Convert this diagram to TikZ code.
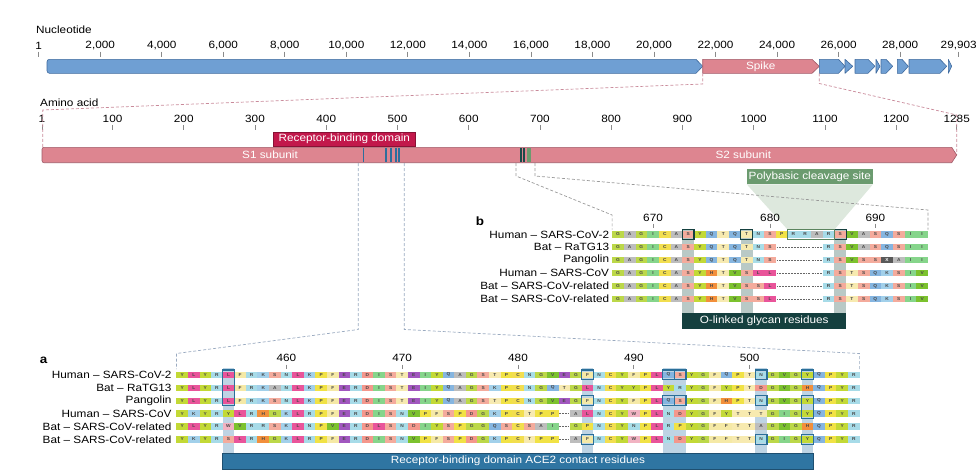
\documentclass[tikz,border=0pt]{standalone}
\usepackage{fontspec}
\setmainfont{Liberation Sans}[FakeStretch=1.12]
\usetikzlibrary{calc}
\definecolor{orfblue}{HTML}{6F9FD3}
\definecolor{orfedge}{HTML}{3F6A9E}
\definecolor{spikepink}{HTML}{DD8590}
\definecolor{spikeedge}{HTML}{A05A68}
\definecolor{rbdred}{HTML}{C2184B}
\definecolor{contactblue}{HTML}{2F75A2}
\definecolor{contactedge}{HTML}{1E4F70}
\definecolor{shadeblue}{HTML}{BED4E4}
\definecolor{boxblue}{HTML}{2B6F99}
\definecolor{glyteal}{HTML}{15403F}
\definecolor{shadeteal}{HTML}{B9C9C6}
\definecolor{cleavgreen}{HTML}{6B9B6F}
\definecolor{cleavlight}{HTML}{DDE8DD}
\definecolor{conpink}{HTML}{C98A9A}
\definecolor{conblue}{HTML}{9AAAC0}
\definecolor{congray}{HTML}{999999}
\definecolor{tickgray}{HTML}{8A8A8A}
\definecolor{s1line}{HTML}{2D6E9C}
\definecolor{s2dark}{HTML}{1B4A48}
% residue colours
\definecolor{aaY}{HTML}{C3D936}
\definecolor{aaL}{HTML}{E9549A}
\definecolor{aaR}{HTML}{A7DBE8}
\definecolor{aaK}{HTML}{A2D0EA}
\definecolor{aaF}{HTML}{F5E9A6}
\definecolor{aaS}{HTML}{F4AB9C}
\definecolor{aaN}{HTML}{A8DDE8}
\definecolor{aaP}{HTML}{F1E245}
\definecolor{aaE}{HTML}{A157BF}
\definecolor{aaD}{HTML}{F4978C}
\definecolor{aaI}{HTML}{86D58B}
\definecolor{aaT}{HTML}{F7EAB0}
\definecolor{aaQ}{HTML}{85B5E0}
\definecolor{aaA}{HTML}{BDBDBD}
\definecolor{aaG}{HTML}{BCD849}
\definecolor{aaC}{HTML}{F2DE4F}
\definecolor{aaV}{HTML}{7CC22E}
\definecolor{aaH}{HTML}{F28F3B}
\definecolor{aaW}{HTML}{F1B3C2}
\definecolor{aaX}{HTML}{595959}
\definecolor{aag}{HTML}{FFFFFF}
\newcommand\mainsize{\fontsize{10.5}{12.5}\selectfont}
\newcommand\cellfont{\fontsize{4.3}{4.3}\selectfont\bfseries}
\newcommand\labX{\textcolor{white}{X}}
\newcommand\labg{\textcolor{black!60}{\rule{1.8pt}{0.5pt}\hspace{1pt}\rule{1.8pt}{0.5pt}\hspace{1pt}\rule{1.8pt}{0.5pt}\hspace{1pt}\rule{1.8pt}{0.5pt}}}
\makeatletter
\newcount\aacol
\newcommand\seqrow[5]{%
  \global\aacol=0
  \@tfor\aac:=#5\do{%
    \pgfmathsetmacro\aax{#1+(\the\aacol+0.5)*#3}%
    \node[cell, minimum width=#3pt, fill=aa\aac] (#4-\the\aacol) at (\aax,#2) {\ifcsname lab\aac\endcsname\csname lab\aac\endcsname\else\aac\fi};%
    \global\advance\aacol by 1 }%
}
\makeatother
\tikzset{
  lab/.style={font=\mainsize, inner sep=0pt, text=black},
  wlab/.style={font=\mainsize, inner sep=0pt, text=white},
  panel/.style={font=\fontsize{12}{14}\selectfont\bfseries, inner sep=0pt},
  tickmark/.style={draw=tickgray, line width=0.8pt},
  orf/.style={fill=orfblue, draw=orfedge, line width=0.6pt, line join=round},
  spk/.style={fill=spikepink, draw=spikeedge, line width=0.6pt, line join=round},
  condash/.style={dash pattern=on 3pt off 2pt, line width=0.7pt},
  cell/.style={rectangle, inner sep=0pt, minimum height=6.2pt, text=black!72, font=\cellfont, draw=none},
  abox/.style={draw=boxblue, line width=1.3pt},
  bbox/.style={draw=glyteal, line width=1.2pt},
  gbox/.style={draw=cleavgreen!85!black, line width=1.2pt}
}
\begin{document}
\begin{tikzpicture}[x=1pt,y=-1pt]
\useasboundingbox (0,0) rectangle (980,471);

% ---------------- nucleotide axis ----------------
\node[lab, anchor=west] (ntitle) at (36,30) {Nucleotide};
\foreach \v/\t [count=\i] in {0.001/1,2/{2,000},4/{4,000},6/{6,000},8/{8,000},10/{10,000},12/{12,000},14/{14,000},16/{16,000},18/{18,000},20/{20,000},22/{22,000},24/{24,000},26/{26,000},28/{28,000},29.903/{29,903}}{
  \pgfmathsetmacro\xx{38.7+(\v-0.001)*30.767}
  \draw[tickmark] (\xx,51.7) -- (\xx,56.7);
  \node[lab] (nt\i) at (\xx,45.7) {\t};
}
% genome bar
\draw[orf] (702.7,66.3) -- (696,73.3) [rounded corners=2.5pt] -- (47,73.3) -- (47,59.3) [sharp corners] -- (696,59.3) -- cycle;
\draw[spk] (702.7,59.3) -- (812,59.3) -- (819.3,66.3) -- (812,73.3) -- (702.7,73.3) -- cycle;
\node[wlab] (spike) at (760.8,66.3) {Spike};
\foreach \a/\b/\c in {819.3/838.5/845, 845/845/852.7, 855/868/875, 876/876/880, 881/886/892.7, 897.3/902/908.3, 909/940/946.7, 948.3/948.3/951.7}{
  \draw[orf] (\a,59.3) -- (\b,59.3) -- (\c,66.3) -- (\b,73.3) -- (\a,73.3) -- cycle;
}

% ---------------- amino acid axis ----------------
\node[lab, anchor=west] (atitle) at (40,102.7) {Amino acid};
\foreach \v [count=\i] in {1,100,200,300,400,500,600,700,800,900,1000,1100,1200,1285}{
  \pgfmathsetmacro\xx{42+(\v-1)*0.7124}
  \draw[tickmark] (\xx,125) -- (\xx,130);
  \node[lab] (aa\i) at (\xx,119.3) {\v};
}
% connectors spike -> protein
\coordinate (sp0) at (702.7,73.3);
\coordinate (sp1) at (702.7,84);
\coordinate (pa1) at (42.7,110);
\coordinate (pa0) at (42.7,147.3);
\coordinate (se0) at (819.3,73.3);
\coordinate (se1) at (819.3,83.5);
\coordinate (pe1) at (956.7,115);
\coordinate (pe0) at (956.7,155);
\draw[condash, conpink] (sp0) -- (sp1) -- (pa1) -- (pa0);
\draw[condash, conpink] (se0) -- (se1) -- (pe1) -- (pe0);

% RBD label
\node[wlab, fill=rbdred, draw=rbdred!70!black, line width=0.5pt, minimum width=142pt, minimum height=14.3pt] (rbd) at (344.3,138.9) {Receptor-binding domain};

% protein bar
\draw[spk] (951.7,147.3) -- (956.7,155) -- (951.7,162.7) [rounded corners=2pt] -- (42,162.7) -- (42,147.3) [sharp corners] -- cycle;
\foreach \xx in {363.3,386,390.7,396,399}{
  \fill[s1line] (\xx-0.8,147.8) rectangle (\xx+0.8,162.2);
}
\fill[s2dark] (519.9,147.8) rectangle (521.5,162.2);
\fill[s2dark] (523.2,147.8) rectangle (524.8,162.2);
\fill[cleavgreen] (527.3,147.8) rectangle (530.5,162.2);
\node[wlab] (s1) at (270,155) {S1 subunit};
\node[wlab] (s2) at (743.3,155) {S2 subunit};

% ---------------- panel b ----------------
% polybasic label and funnel
\fill[cleavlight] (746.7,184.3) -- (873,184.3) -- (834.4,229.6) -- (787.6,229.6) -- cycle;
\node[wlab, fill=cleavgreen, minimum width=126.3pt, minimum height=15.3pt] (poly) at (809.85,176.65) {Polybasic cleavage site};

% connectors to panel b
\coordinate (s2L0) at (516,163);
\coordinate (s2L1) at (516,176);
\coordinate (bL1) at (612.1,215);
\coordinate (bL0) at (612.1,229.6);
\coordinate (s2R0) at (535,163);
\coordinate (s2R1) at (535,176);
\coordinate (bR1) at (928,210);
\coordinate (bR0) at (928,229.6);
\draw[condash, congray] (s2L0) -- (s2L1) -- (bL1) -- (bL0);
\draw[condash, congray] (s2R0) -- (s2R1) -- (bR1) -- (bR0);

\node[panel] (pb) at (480,221) {b};
\foreach \v/\xx [count=\i] in {670/653.05, 680/770.05, 690/875.35}{
  \draw[tickmark] (\xx,223.5) -- (\xx,228);
  \node[lab] (bt\i) at (\xx,218.3) {\v};
}
% shading columns
\foreach \xx in {682.3,740.8,834.4}{
  \fill[shadeteal] (\xx,229.6) rectangle (\xx+11.7,312.7);
}
% row labels
\foreach \t/\yy [count=\i] in {Human – SARS-CoV-2/234.4, Bat – RaTG13/247.32, Pangolin/260.24, Human – SARS-CoV/273.16, Bat – SARS-CoV-related/286.08, Bat – SARS-CoV-related/299.0}{
  \node[lab, anchor=east] (blab\i) at (609.3,\yy) {\t};
}
\seqrow{612.1}{234.4}{11.7}{b1}{GAGICASYQTQTNSPRRARSVASQSII}
\seqrow{612.1}{247.32}{11.7}{b2}{GAGICASYQTQTNSggggRSVASQSII}
\seqrow{612.1}{260.24}{11.7}{b3}{GAGICASYQTQTNSggggRSVSSXAII}
\seqrow{612.1}{273.16}{11.7}{b4}{GAGICASYHTVSLLggggRSTSQKSIV}
\seqrow{612.1}{286.08}{11.7}{b5}{GAGICASYHTVSSLggggRSTSQKSIV}
\seqrow{612.1}{299.0}{11.7}{b6}{GAGICASYHTVSSLggggRSTSQKSIV}
% boxes
\foreach \xx in {682.3,740.8,834.4}{
  \draw[bbox] (\xx,229.6) rectangle (\xx+11.7,239.2);
}
\draw[gbox] (787.6,229.6) rectangle (834.4,239.2);
\node[wlab, fill=glyteal, minimum width=163.8pt, minimum height=16.3pt] (glyc) at (764.2,320.85) {O-linked glycan residues};

% ---------------- panel a ----------------
\coordinate (rL0) at (358.3,163);
\coordinate (rL1) at (358.3,329.5);
\coordinate (aL1) at (176.4,353.5);
\coordinate (aL0) at (176.4,369);
\coordinate (rR0) at (404.3,163);
\coordinate (rR1) at (404.3,329.5);
\coordinate (aR1) at (859.6,353.5);
\coordinate (aR0) at (859.6,369);
\draw[condash, conblue] (rL0) -- (rL1) -- (aL1) -- (aL0);
\draw[condash, conblue] (rR0) -- (rR1) -- (aR1) -- (aR0);

\node[panel] (pa) at (43.7,360.5) {a};
\foreach \v/\xx [count=\i] in {460/286.41, 470/402.21, 480/518.01, 490/633.81, 500/749.61}{
  \draw[tickmark] (\xx,364.5) -- (\xx,369);
  \node[lab] (at\i) at (\xx,358) {\v};
}
\foreach \xx in {222.72,581.7,662.76,674.34,755.4,801.72}{
  \fill[shadeblue] (\xx,368) rectangle (\xx+11.58,453.5);
}
\foreach \t/\yy [count=\i] in {Human – SARS-CoV-2/374.7, Bat – RaTG13/387.65, Pangolin/400.6, Human – SARS-CoV/413.55, Bat – SARS-CoV-related/426.5, Bat – SARS-CoV-related/439.45}{
  \node[lab, anchor=east] (alab\i) at (171.7,\yy) {\t};
}
\seqrow{176.4}{374.7}{11.58}{a1}{YLYRLFRKSNLKPFERDISTEIYQAGSTPCNGVEGFNCYFPLQSYGFQPTNGVGYQPYR}
\seqrow{176.4}{387.65}{11.58}{a2}{YLYRLFRKANLKPFERDISTEIYQAGSKPCNGQTGLNCYYPLYRYGFYPTDGVGHQPYR}
\seqrow{176.4}{400.6}{11.58}{a3}{YLYRLFRKSNLKPFERDISTEIYQAGSTPCNGVEGFNCYFPLQSYGFHPTNGVGYQPYR}
\seqrow{176.4}{413.55}{11.58}{a4}{YKYRYLRHGKLRPFERDISNVPFSPDGKPCTPPgALNCYWPLNDYGFYTTTGIGYQPYR}
\seqrow{176.4}{426.5}{11.58}{a5}{YLYRWVRRSKLNPVERDLSNDIYSPGGQSCSAIgGPNCYNPLRPYGFFTTAGVGHQPYR}
\seqrow{176.4}{439.45}{11.58}{a6}{YKYRSLRHGKLRPFERDISNVPFSPDGKPCTPPgAFNCYWPLNDYGFFTTNGIGYQPYR}
% contact boxes: column offset / first row y / last row y
\foreach \k/\ya/\yb in {4/374.7/400.6, 35/374.7/374.7, 35/400.6/400.6, 35/439.45/439.45, 42/374.7/374.7, 42/400.6/400.6, 43/374.7/374.7, 43/400.6/400.6, 50/374.7/374.7, 50/400.6/400.6, 50/439.45/439.45, 54/374.7/374.7, 54/400.6/413.55, 54/439.45/439.45}{
  \pgfmathsetmacro\xl{176.4+\k*11.58}
  \draw[abox] (\xl,\ya-4.8) rectangle (\xl+11.58,\yb+4.8);
}
\node[wlab, fill=contactblue, draw=contactedge, line width=0.8pt, minimum width=590.6pt, minimum height=15.5pt] (ace2) at (518,461.25) {Receptor-binding domain ACE2 contact residues};
\end{tikzpicture}
\end{document}
